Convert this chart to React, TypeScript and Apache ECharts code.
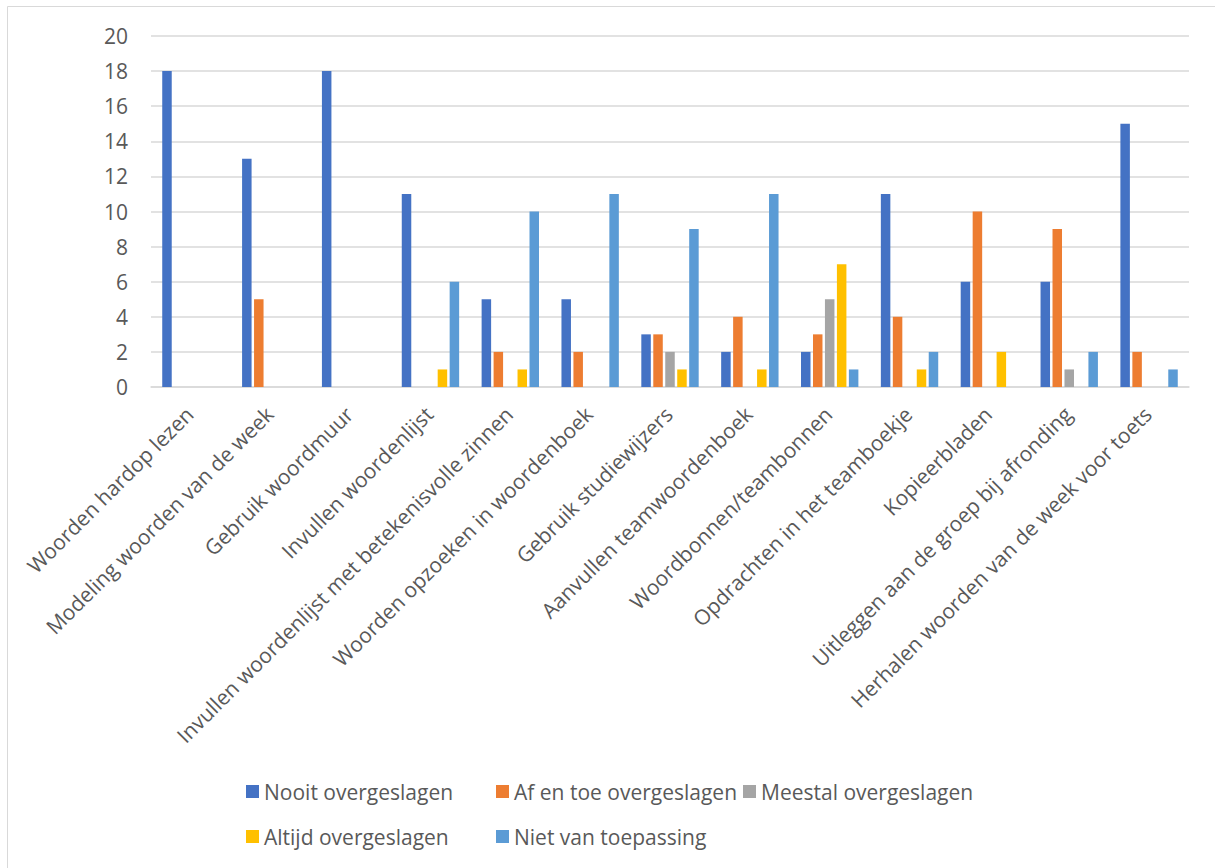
import React, { useEffect, useRef } from "react";
import * as echarts from "echarts";

const categories = [
  "Woorden hardop lezen",
  "Modeling woorden van de week",
  "Gebruik woordmuur",
  "Invullen woordenlijst",
  "Invullen woordenlijst met betekenisvolle zinnen",
  "Woorden opzoeken in woordenboek",
  "Gebruik studiewijzers",
  "Aanvullen teamwoordenboek",
  "Woordbonnen/teambonnen",
  "Opdrachten in het teamboekje",
  "Kopieerbladen",
  "Uitleggen aan de groep bij afronding",
  "Herhalen woorden van de week voor toets",
];

const seriesNames = [
  "Nooit overgeslagen",
  "Af en toe overgeslagen",
  "Meestal overgeslagen",
  "Altijd overgeslagen",
  "Niet van toepassing",
];

const nooit = [18, 13, 18, 11, 5, 5, 3, 2, 2, 11, 6, 6, 15];
const afEnToe = [0, 5, 0, 0, 2, 2, 3, 4, 3, 4, 10, 9, 2];
const meestal = [0, 0, 0, 0, 0, 0, 2, 0, 5, 0, 0, 1, 0];
const altijd = [0, 0, 0, 1, 1, 0, 1, 1, 7, 1, 2, 0, 0];
const nietVanToepassing = [0, 0, 0, 6, 10, 11, 9, 11, 1, 2, 0, 2, 1];

const yTicks = [0, 2, 4, 6, 8, 10, 12, 14, 16, 18, 20];

const colors = ["#4472C4", "#ED7D31", "#A5A5A5", "#FFC000", "#5B9BD5"];

const FONT = "'Open Sans', sans-serif";
const TEXT = "#595959";

export default function App() {
  const ref = useRef<HTMLDivElement>(null);
  useEffect(() => {
    document.body.style.margin = "0";
    const chart = echarts.init(ref.current!, null, { renderer: "svg" });
    const values = [nooit, afEnToe, meestal, altijd, nietVanToepassing];
    const legendPos = [
      { left: 246, top: 781 },
      { left: 496, top: 781 },
      { left: 743, top: 781 },
      { left: 246, top: 826 },
      { left: 496, top: 826 },
    ];
    chart.setOption({
      animation: false,
      color: colors,
      textStyle: { fontFamily: FONT },
      graphic: [
        {
          type: "rect",
          shape: { x: 7.5, y: 6.5, width: 1400, height: 1000 },
          style: { fill: "none", stroke: "#d9d9d9", lineWidth: 1 },
          silent: true,
        },
      ],
      legend: seriesNames.map((n, i) => ({
        data: [n],
        left: legendPos[i].left,
        top: legendPos[i].top,
        icon: "rect",
        itemWidth: 13,
        itemHeight: 13,
        padding: 0,
        textStyle: { color: TEXT, fontSize: 21, fontFamily: FONT },
      })),
      grid: { left: 151, right: 26, top: 36, bottom: 481, containLabel: false },
      xAxis: {
        type: "category",
        data: categories,
        axisLine: { lineStyle: { color: "#d9d9d9", width: 1.5 } },
        axisTick: { show: false },
        axisLabel: {
          interval: 0,
          rotate: 45,
          margin: 22,
          color: TEXT,
          fontSize: 21,
          fontFamily: FONT,
          padding: [0, 2, 0, 0],
        },
      },
      yAxis: {
        type: "value",
        min: yTicks[0],
        max: yTicks[yTicks.length - 1],
        interval: 2,
        axisLine: { show: false },
        axisTick: { show: false },
        splitLine: { lineStyle: { color: "#d9d9d9", width: 1.5 } },
        axisLabel: { color: TEXT, fontSize: 21, fontFamily: FONT, margin: 23 },
      },
      series: seriesNames.map((n, i) => ({
        name: n,
        type: "bar",
        data: values[i],
        barWidth: 9.5,
        barGap: "26%",
        itemStyle: { color: colors[i] },
      })),
    });
    return () => chart.dispose();
  }, []);
  return <div ref={ref} style={{ width: 1215, height: 868 }} />;
}
